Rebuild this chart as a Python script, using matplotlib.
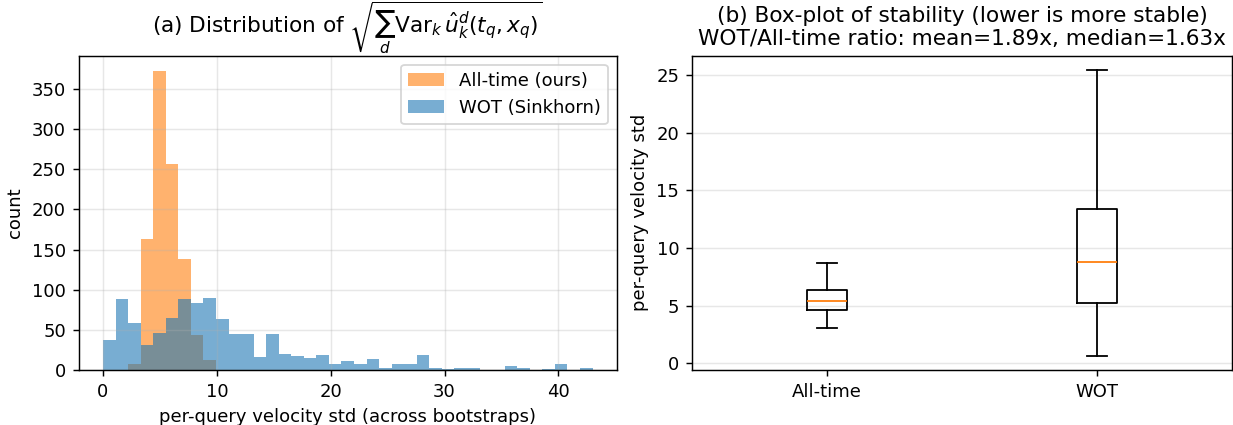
import numpy as np
import matplotlib
matplotlib.use("Agg")
from matplotlib import pyplot as plt

# shared histogram bins (39 bins over [0, max])
vmax = 43.0
nbins = 39

# counts per bin, all-time model (ours)
alltime_counts = [0, 0, 8, 163, 373, 257, 138, 44, 12, 0,
                  0, 0, 0, 0, 0, 0, 0, 0, 0, 0,
                  0, 0, 0, 0, 0, 0, 0, 0, 0, 0,
                  0, 0, 0, 0, 0, 0, 0, 0, 0]
# counts per bin, WOT (Sinkhorn)
wot_counts = [37, 89, 59, 31, 46, 65, 88, 83, 90, 63,
              45, 45, 16, 45, 20, 18, 15, 19, 8, 11,
              7, 14, 3, 8, 8, 19, 3, 1, 3, 3,
              0, 0, 5, 2, 0, 1, 7, 0, 2]

# box-plot summaries: whisker low, q1, median, q3, whisker high
box_labels = ["All-time", "WOT"]
box_whislo = [3.08, 0.66]
box_q1 = [4.60, 5.26]
box_med = [5.43, 8.79]
box_q3 = [6.33, 13.36]
box_whishi = [8.73, 25.44]

edges = np.linspace(0, vmax, nbins + 1)
centers = 0.5 * (edges[:-1] + edges[1:])

W, H = 1233, 425
fig = plt.figure(figsize=(W / 130, H / 130), dpi=130)
ax1 = fig.add_axes([78.5 / W, 1 - 370 / H, (617 - 78.5) / W, (370 - 55.7) / H])
ax2 = fig.add_axes([692 / W, 1 - 370 / H, (1232 - 692) / W, (370 - 55.7) / H])

# (a) overlaid histograms
ax = ax1
ax.hist(centers, bins=edges, weights=alltime_counts, alpha=0.6, color="C1", label="All-time (ours)")
ax.hist(centers, bins=edges, weights=wot_counts, alpha=0.6, color="C0", label="WOT (Sinkhorn)")
ax.set_xlabel("per-query velocity std (across bootstraps)")
ax.set_ylabel("count")
ax.set_title(r"(a) Distribution of $\sqrt{\sum_d \mathrm{Var}_k\,\hat{u}_k^d(t_q,x_q)}$")
ax.legend()
ax.grid(alpha=0.3)

# (b) box-plot from summary stats
ax = ax2
stats = []
for i in range(len(box_labels)):
    stats.append(dict(label=box_labels[i], whislo=box_whislo[i], q1=box_q1[i],
                      med=box_med[i], q3=box_q3[i], whishi=box_whishi[i], fliers=[]))
ax.bxp(stats, showfliers=False)
ax.set_ylabel("per-query velocity std")
ax.set_title("(b) Box-plot of stability (lower is more stable)\n"
             "WOT/All-time ratio: mean=1.89x, median=1.63x")
ax.grid(axis="y", alpha=0.3)

fig.savefig("out.png")
